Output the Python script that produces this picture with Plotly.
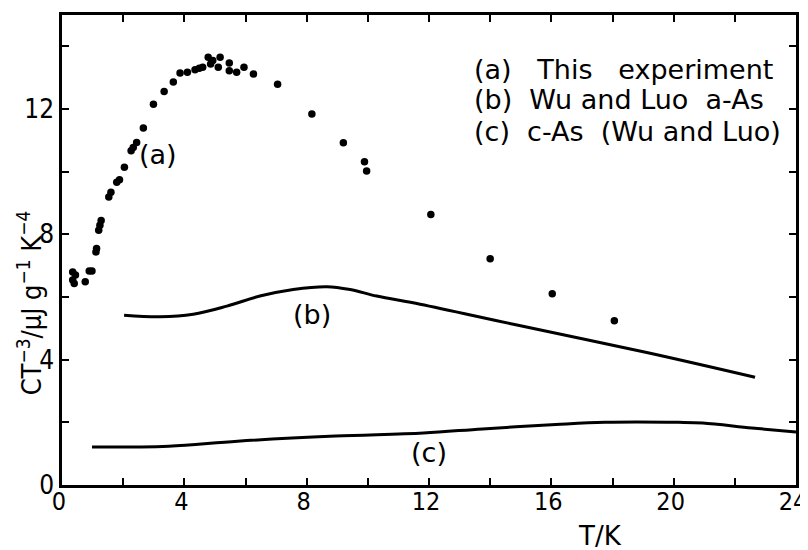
import plotly.graph_objects as go

# (a) This experiment: measured points
a_T = [0.35, 0.44, 0.35, 0.40, 0.76, 0.89, 0.98, 1.11, 1.13, 1.20, 1.24, 1.28,
       1.53, 1.60, 1.79, 1.88, 2.04, 2.26, 2.33, 2.44, 2.66, 2.99, 3.34, 3.64,
       3.86, 4.10, 4.35, 4.49, 4.60, 4.78, 4.86, 4.93, 5.17, 5.11, 5.47, 5.47,
       5.71, 5.95, 6.26, 7.05, 8.17, 9.20, 9.89, 9.96, 12.06, 14.00, 16.03, 18.06]
a_C = [6.80, 6.70, 6.54, 6.43, 6.49, 6.83, 6.83, 7.44, 7.55, 8.13, 8.29, 8.44,
       9.19, 9.34, 9.66, 9.74, 10.14, 10.67, 10.77, 10.93, 11.39, 12.15, 12.56, 12.86,
       13.15, 13.17, 13.25, 13.30, 13.33, 13.65, 13.44, 13.55, 13.65, 13.33, 13.47, 13.22,
       13.17, 13.33, 13.12, 12.79, 11.84, 10.92, 10.32, 10.02, 8.63, 7.22, 6.10, 5.24]

# (b) Wu and Luo a-As
b_T = [2.03, 3.20, 4.29, 5.39, 6.47, 7.56, 8.66, 9.42, 10.29, 11.71, 14.76, 19.12, 22.66]
b_C = [5.42, 5.37, 5.45, 5.71, 6.03, 6.24, 6.33, 6.24, 6.03, 5.77, 5.13, 4.23, 3.44]

# (c) c-As (Wu and Luo)
c_T = [0.98, 3.49, 5.74, 8.94, 11.82, 13.75, 16.15, 17.75, 20.15, 20.95, 22.55, 24.0]
c_C = [1.21, 1.24, 1.40, 1.56, 1.66, 1.79, 1.93, 2.00, 2.00, 1.98, 1.82, 1.69]

x_ticks = [0, 4, 8, 12, 16, 20, 24]
y_ticks = [0, 4, 8, 12]
legend_lines = ["(a)   This   experiment", "(b)  Wu and Luo  a-As", "(c)  c-As  (Wu and Luo)"]

TICKFONT = "DejaVu Sans Condensed, DejaVu Sans, sans-serif"
FONT = "DejaVu Sans, sans-serif"

fig = go.Figure()
fig.add_trace(go.Scatter(x=a_T, y=a_C, mode="markers",
                         marker=dict(color="black", size=7.5), showlegend=False))
fig.add_trace(go.Scatter(x=b_T, y=b_C, mode="lines", line=dict(color="black", width=3, shape="spline"),
                         showlegend=False))
fig.add_trace(go.Scatter(x=c_T, y=c_C, mode="lines", line=dict(color="black", width=3, shape="spline"),
                         showlegend=False))

axis_common = dict(showline=True, linecolor="black", linewidth=2.5, mirror="allticks",
                   ticks="inside", ticklen=7, tickwidth=2, tickcolor="black",
                   showgrid=False, zeroline=False, ticklabeloverflow="allow",
                   minor=dict(ticks="inside", ticklen=7, tickwidth=2, tickcolor="black", dtick=2))

fig.update_xaxes(range=[0, 24], tickvals=x_ticks, ticktext=[str(v) for v in x_ticks],
                 tickfont=dict(family=TICKFONT, size=25, color="black"),
                 ticklabelstandoff=-8, ticklabelshift=-3, **axis_common)
fig.update_yaxes(range=[0, 15], tickvals=y_ticks, ticktext=[str(v) for v in y_ticks],
                 tickfont=dict(family=TICKFONT, size=26, color="black"), **axis_common)

lab = dict(family=FONT, size=27, color="black")
ann = []
ann.append(dict(x=3.13, y=10.56, xref="x", yref="y", text="(a)", showarrow=False, font=lab))
ann.append(dict(x=8.17, y=5.45, xref="x", yref="y", text="(b)", showarrow=False, font=lab))
ann.append(dict(x=12.0, y=1.03, xref="x", yref="y", text="(c)", showarrow=False, font=lab))
legend_y = [13.27, 12.29, 11.28]
for t, yy in zip(legend_lines, legend_y):
    ann.append(dict(x=13.4, y=yy, xref="x", yref="y", text=t, showarrow=False,
                    xanchor="left", yanchor="middle", font=lab))
ann.append(dict(x=17.6, y=-0.108, xref="x", yref="paper", text="T/K", showarrow=False,
                yanchor="middle", font=dict(family=FONT, size=26, color="black")))
ann.append(dict(x=-0.044, y=0.388, xref="paper", yref="paper", textangle=-90,
                text="CT<sup>−3</sup>/μJ g<sup>−1</sup> K<sup>−4</sup>", showarrow=False,
                xanchor="center", yanchor="middle",
                font=dict(family=TICKFONT, size=27, color="black")))
# page body adds an 8px offset; margins compensate so the plot frame lands where the reference has it
fig.update_layout(annotations=ann, width=808, height=550,
                  margin=dict(l=54, r=20, t=4, b=73),
                  plot_bgcolor="white", paper_bgcolor="white")

fig.write_html("out.html")
